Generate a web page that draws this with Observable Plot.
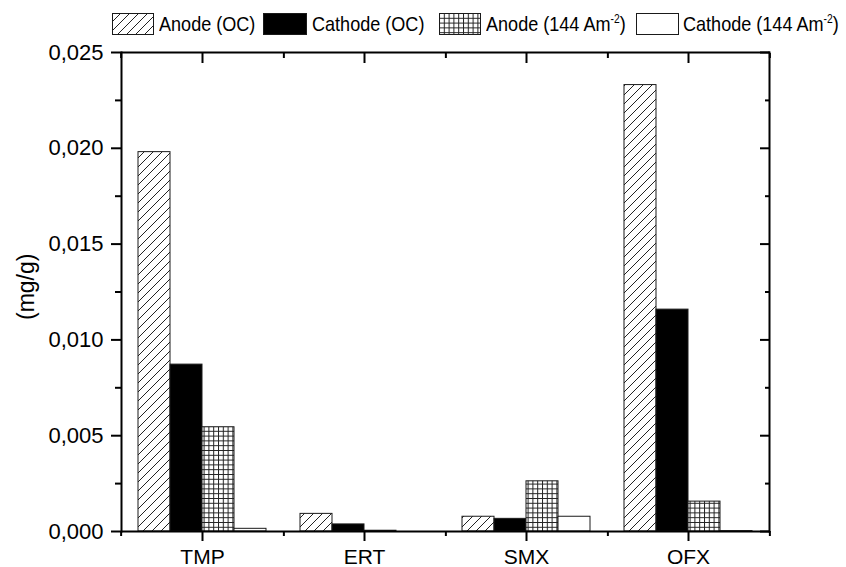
<!DOCTYPE html>
<html>
<head>
<meta charset="utf-8">
<script src="https://cdn.jsdelivr.net/npm/d3@7"></script>
<script src="https://cdn.jsdelivr.net/npm/@observablehq/plot@0.6"></script>
<style>
  body { margin: 0; background: #fff; }
  #figure { position: relative; width: 846px; height: 567px; background: #fff;
            font-family: "Liberation Sans", Arial, sans-serif; color: #000; }
  #legend { position: relative; height: 42px; }
  #legend .sw { position: absolute; top: 13px; }
  #legend .lab { position: absolute; top: 13px; font-size: 21px; line-height: 21px;
                 white-space: nowrap; transform: scaleX(0.86); transform-origin: left center; }
  #legend sup { font-size: 12px; vertical-align: 8px; line-height: 0; }
</style>
</head>
<body>
<!-- fill patterns shared by the bars and the legend swatches -->
<svg width="0" height="0" style="position:absolute">
  <defs>
    <pattern id="hatch" patternUnits="userSpaceOnUse" width="9" height="9">
      <rect width="9" height="9" fill="#fff"/>
      <path d="M-1,1 L1,-1 M0,9 L9,0 M8,10 L10,8" stroke="#222" stroke-width="1"/>
    </pattern>
    <pattern id="grid" patternUnits="userSpaceOnUse" width="4.8" height="4.8">
      <rect width="4.8" height="4.8" fill="#fff"/>
      <path d="M0,0.5 H4.8 M0.5,0 V4.8" stroke="#222" stroke-width="1"/>
    </pattern>
  </defs>
</svg>
<div id="figure">
  <div id="legend"></div>
  <div id="plot"></div>
</div>
<script>
// Residual drug content on the electrodes (mg/g)
const categories = ["TMP", "ERT", "SMX", "OFX"];
const series = ["Anode (OC)", "Cathode (OC)", "Anode (144 Am-2)", "Cathode (144 Am-2)"];
const anodeOC    = [0.0198, 0.00092, 0.00077, 0.0233];
const cathodeOC  = [0.00871, 0.00037, 0.00066, 0.01158];
const anode144   = [0.00544, 0.00004, 0.00262, 0.00156];
const cathode144 = [0.00014, 0, 0.00077, 0.00002];
const yTicks = [0, 0.005, 0.01, 0.015, 0.02, 0.025];
const yMinorTicks = [0.0025, 0.0075, 0.0125, 0.0175, 0.0225];

const seriesValues = [anodeOC, cathodeOC, anode144, cathode144];
const seriesFill = ["url(#hatch)", "#000", "url(#grid)", "#fff"];

const rows = series.flatMap((s, i) =>
  categories.map((c, j) => ({category: c, series: s, value: seriesValues[i][j]})));

// layout
const W = 846, H = 525, mL = 119, mR = 76, mT = 10, mB = 36;
const step = (W - mL - mR) / categories.length;
const fmt = d => d3.format(".3f")(d).replace(".", ",");
const noText = () => "";
const axisStyle = {strokeWidth: 2, label: null};

const chart = Plot.plot({
  width: W, height: H,
  marginLeft: mL, marginRight: mR, marginTop: mT, marginBottom: mB,
  style: {fontFamily: '"Liberation Sans", Arial, sans-serif', fontSize: "21px",
          color: "#000", background: "#fff", overflow: "visible"},
  fx: {domain: categories, padding: 0},
  x: {domain: series, paddingInner: 0, paddingOuter: 0.485, axis: null},
  y: {domain: [0, 0.025]},
  marks: [
    ...series.map((s, i) => Plot.barY(rows.filter(d => d.series === s), {
      fx: "category", x: "series", y: "value",
      fill: seriesFill[i], stroke: "#1a1a1a", strokeWidth: 1
    })),
    // box
    Plot.ruleY([0, 0.025], {strokeWidth: 2}),
    Plot.frame({anchor: "left", facetAnchor: "left", strokeWidth: 2}),
    Plot.frame({anchor: "right", facetAnchor: "right", strokeWidth: 2}),
    // left axis
    Plot.axisY({anchor: "left", ticks: yTicks, tickSize: 10, tickPadding: 8,
                tickFormat: fmt, fontSize: 22, ...axisStyle}),
    Plot.axisY({anchor: "left", ticks: yMinorTicks, tickSize: 6, tickFormat: noText, ...axisStyle}),
    // right axis, ticks pointing inward
    Plot.axisY({anchor: "right", ticks: yTicks, tickSize: -10, tickFormat: noText, ...axisStyle}),
    Plot.axisY({anchor: "right", ticks: yMinorTicks, tickSize: -5, tickFormat: noText, ...axisStyle}),
    // bottom axis: labels at group centres, minor ticks at group boundaries
    Plot.axisFx({anchor: "bottom", tickSize: 10, tickPadding: 8, ...axisStyle}),
    Plot.axisFx({anchor: "bottom", tickSize: 5, tickFormat: noText, dx: step / 2, ...axisStyle}),
    Plot.axisFx({anchor: "bottom", ticks: categories.slice(0, 1), tickSize: 5, tickFormat: noText, dx: -step / 2, ...axisStyle}),
    // top axis, ticks pointing inward
    Plot.axisFx({anchor: "top", tickSize: -10, tickFormat: noText, ...axisStyle}),
    Plot.axisFx({anchor: "top", tickSize: -5, tickFormat: noText, dx: step / 2, ...axisStyle}),
    Plot.axisFx({anchor: "top", ticks: categories.slice(0, 1), tickSize: -5, tickFormat: noText, dx: -step / 2, ...axisStyle}),
    // y title
    Plot.text(["(mg/g)"], {frameAnchor: "left", facetAnchor: "left", rotate: -90,
                           dx: -95, dy: 28, fontSize: 23, fill: "#000"})
  ]
});
document.getElementById("plot").appendChild(chart);

// legend
const legend = d3.select("#legend");
const swatchLeft = [112, 263, 439, 636];
const swatchWidth = [41, 43, 41, 42];
const labelLeft = [159, 312, 486, 683];
series.forEach((s, i) => {
  const sw = legend.append("svg").attr("class", "sw")
    .style("left", swatchLeft[i] + "px")
    .attr("width", swatchWidth[i] + 1).attr("height", 22);
  sw.append("rect").attr("x", 0.5).attr("y", 0.5)
    .attr("width", swatchWidth[i]).attr("height", 21)
    .attr("fill", seriesFill[i]).attr("stroke", "#1a1a1a").attr("stroke-width", 1);
  legend.append("div").attr("class", "lab")
    .style("left", labelLeft[i] + "px")
    .html(s.replace("Am-2", "Am<sup>-2</sup>"));
});
</script>
</body>
</html>
